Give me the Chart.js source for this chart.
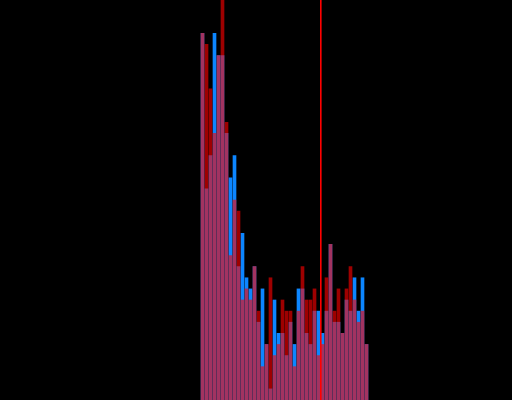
<!DOCTYPE html>
<html>
<head>
<meta charset="utf-8">
<script src="https://cdn.jsdelivr.net/npm/chart.js@4/dist/chart.umd.min.js"></script>
<style>
  html, body { margin: 0; padding: 0; background: #000; }
  #wrap { width: 512px; height: 400px; }
</style>
</head>
<body>
<div id="wrap"><canvas id="c" width="512" height="400"></canvas></div>
<script>
// histogram bins (bin index)
const bins = [50,51,52,53,54,55,56,57,58,59,60,61,62,63,64,65,66,67,68,69,70,
              71,72,73,74,75,76,77,78,79,80,81,82,83,84,85,86,87,88,89,90,91];
// counts per bin, series A (blue)
const blueCounts = [33,19,22,33,31,31,24,20,22,12,15,11,10,12,7,10,5,1,9,6,6,
                    4,7,5,10,10,6,5,8,8,6,8,14,7,7,6,9,8,11,8,11,5];
// counts per bin, series B (red)
const redCounts  = [33,32,28,24,31,37,25,13,18,17,9,10,9,12,8,3,5,11,4,5,9,
                    8,8,3,8,12,9,9,10,4,5,11,14,8,10,6,10,12,9,7,8,5];
// vertical marker positions (in bin units)
const markers = [79.5];

const markerPlugin = {
  id: 'markers',
  afterDatasetsDraw(chart) {
    const ctx = chart.ctx, xs = chart.scales.x, area = chart.chartArea;
    ctx.save();
    ctx.fillStyle = '#ff0000';
    markers.forEach(m => {
      const px = Math.floor(xs.getPixelForValue(m));
      ctx.fillRect(px, area.top, 1.6, area.bottom - area.top);
    });
    ctx.restore();
  }
};

const toPts = arr => bins.map((b, i) => ({ x: b, y: arr[i] }));

new Chart(document.getElementById('c'), {
  type: 'bar',
  data: {
    datasets: [
      { label: 'B', data: toPts(redCounts), backgroundColor: 'rgba(255,0,0,0.62)',
        borderWidth: 0, order: 0, grouped: false, barThickness: 3 },
      { label: 'A', data: toPts(blueCounts), backgroundColor: 'rgb(12,134,255)',
        borderWidth: 0, order: 1, grouped: false, barThickness: 3 }
    ]
  },
  options: {
    responsive: false,
    animation: false,
    layout: { padding: 0 },
    plugins: { legend: { display: false }, tooltip: { enabled: false } },
    scales: {
      x: { type: 'linear', min: -0.625, max: 127.375, display: false, offset: false },
      y: { min: 0, max: 36, display: false }
    }
  },
  plugins: [markerPlugin]
});
</script>
</body>
</html>
